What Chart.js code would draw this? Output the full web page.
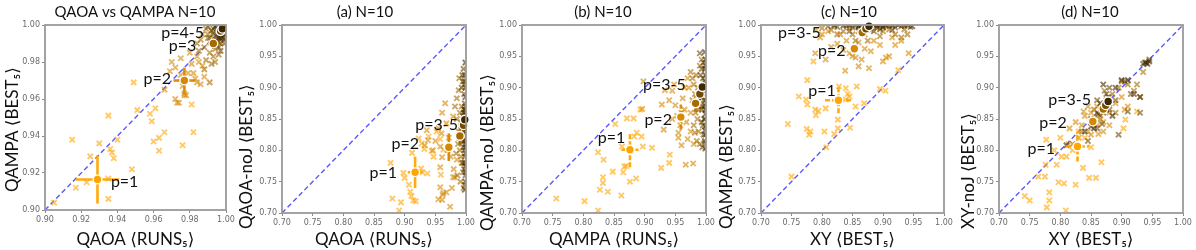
<!DOCTYPE html>
<html><head><meta charset="utf-8">
<script src="https://cdn.jsdelivr.net/npm/chart.js@4/dist/chart.umd.min.js"></script>
<style>
html,body{margin:0;padding:0;background:#fff;}
#wrap{position:relative;width:1196px;height:250px;background:#fff;}
#wrap canvas{position:absolute;left:0;top:0;}
</style></head>
<body><div id="wrap">
<canvas id="c0" width="1196" height="250"></canvas>
<canvas id="c1" width="1196" height="250"></canvas>
<canvas id="c2" width="1196" height="250"></canvas>
<canvas id="c3" width="1196" height="250"></canvas>
<canvas id="c4" width="1196" height="250"></canvas>
</div>
<script>
// ---------- tick labels ----------
const ticksQQ = [0.90,0.92,0.94,0.96,0.98,1.00];
const ticksN  = [0.70,0.75,0.80,0.85,0.90,0.95,1.00];

// ---------- texts ----------
const titles  = ['QAOA vs QAMPA N=10','(a) N=10','(b) N=10','(c) N=10','(d) N=10'];
const xTitles = ['QAOA \u27E8RUNS\u2085\u27E9','QAOA \u27E8RUNS\u2085\u27E9','QAMPA \u27E8RUNS\u2085\u27E9','XY \u27E8BEST\u2085\u27E9','XY \u27E8BEST\u2085\u27E9'];
const yTitles = ['QAMPA \u27E8BEST\u2085\u27E9','QAOA-noJ \u27E8BEST\u2085\u27E9','QAMPA-noJ \u27E8BEST\u2085\u27E9','QAMPA \u27E8BEST\u2085\u27E9','XY-noJ \u27E8BEST\u2085\u27E9'];

// ---------- panel 0: QAOA vs QAMPA ----------
const qq_p1 = [[.905,.904],[.915,.938],[.917,.912],[.923,.915],[.925,.929],[.930,.936],[.935,.951],[.935,.906],[.935,.917],[.936,.933],[.937,.931],[.938,.928],[.940,.938],[.948,.922],[.949,.969],[.951,.954],[.958,.952],[.959,.948],[.960,.937],[.961,.955],[.963,.939],[.963,.932],[.966,.942],[.976,.935],[.982,.942],[.981,.957]];
const qq_p2 = [[.966,.965],[.969,.975],[.970,.980],[.972,.960],[.973,.958],[.974,.958],[.975,.973],[.976,.967],[.977,.963],[.977,.962],[.978,.962],[.982,.974],[.984,.969],[.984,.983],[.986,.968],[.987,.978],[.983,.971],[.980,.985],[.975,.982],[.972,.977],[.979,.974],[.985,.980],[.988,.972],[.981,.979]];
const qq_p3 = [[.985,.986],[.988,.988],[.990,.993],[.991,.985],[.992,.990],[.993,.996],[.994,.987],[.995,.992],[.996,.984],[.989,.981],[.992,.979],[.990,.995],[.986,.992],[.997,.990],[.993,.983],[.991,.969],[.988,.976],[.987,.995],[.984,.990],[.989,.998],[.994,.980]];
const qq_p4 = [[.993,.998],[.995,.994],[.996,.997],[.997,.999],[.998,.995],[.999,.998],[.994,.992],[.996,.991],[.998,.993],[.999,.996],[.992,.997],[.997,.986],[.995,.989],[.991,.993],[.990,.999],[.996,.988],[.999,.990],[.993,.995]];
const qq_p5 = [[.996,.999],[.997,.997],[.998,.999],[.999,.999],[.998,.997],[.999,.995],[.997,.995],[.999,.992],[.996,.996],[.995,.998],[.994,.999],[.999,.997],[.998,.994],[.997,.993],[.996,.993]];
const qq_means = [[.929,.9165,.012,.013],[.977,.970,.006,.007],[.993,.990,.003,.003],[.997,.9967,.002,.002],[.998,.998,.001,.001]];
const qq_labels = [['p=1',.944,.915],['p=2',.962,.971],['p=3',.976,.989],['p=4-5',.976,.9955]];

// ---------- panel 1: (a) ----------
const a_p1 = [[.877,.780],[.880,.723],[.891,.704],[.894,.717],[.898,.764],[.900,.756],[.907,.745],[.909,.734],[.911,.727],[.914,.720],[.918,.719],[.912,.796],[.923,.819],[.927,.771],[.929,.765],[.937,.763],[.939,.822],[.928,.811],[.932,.802],[.944,.799],[.947,.790],[.952,.830],[.958,.818],[.963,.801],[.959,.761]];
const a_p2 = [[.936,.832],[.938,.816],[.933,.808],[.946,.800],[.958,.773],[.961,.789],[.979,.757],[.982,.757],[.958,.741],[.963,.732],[.961,.721],[.974,.710],[.955,.722],[.962,.729],[.968,.733],[.977,.740],[.961,.860],[.966,.875],[.958,.806],[.960,.827],[.968,.843],[.979,.854],[.950,.815],[.955,.835],[.972,.820],[.985,.785],[.975,.790],[.970,.800],[.980,.770]];
const a_p3 = [[.985,.883],[.988,.896],[.982,.870],[.990,.860],[.992,.845],[.988,.830],[.994,.815],[.990,.800],[.993,.780],[.995,.765],[.991,.750],[.996,.740],[.989,.820],[.993,.870],[.997,.905],[.985,.850],[.987,.810],[.984,.795],[.986,.760],[.989,.915],[.992,.790]];
const a_p4 = [[.996,.930],[.995,.910],[.997,.890],[.998,.875],[.996,.860],[.998,.845],[.997,.830],[.999,.820],[.996,.805],[.998,.790],[.997,.770],[.999,.760],[.998,.745],[.993,.900],[.994,.840],[.995,.855],[.996,.815],[.997,.800],[.995,.780],[.994,.920],[.997,.865]];
const a_p5 = [[.999,.940],[.998,.920],[.999,.900],[.999,.885],[.998,.865],[.999,.850],[.999,.835],[.998,.825],[.999,.810],[.999,.795],[.998,.780],[.999,.765],[.999,.750],[.998,.737],[.999,.870],[.999,.855],[.998,.842],[.999,.830],[.998,.815],[.999,.805],[.998,.860],[.999,.775],[.998,.910]];
const a_means = [[.917,.765,.012,.025],[.972,.805,.004,.022],[.990,.823,.003,.015],[.996,.840,.002,.012],[.998,.849,.002,.010]];
const a_labels = [['p=1',.865,.764],['p=2',.901,.811],['p=3-5',.952,.841]];

// ---------- panel 2: (b) ----------
const b_p1 = [[.756,.723],[.802,.719],[.824,.704],[.824,.797],[.827,.737],[.832,.757],[.832,.748],[.833,.785],[.840,.734],[.848,.766],[.852,.842],[.862,.728],[.863,.806],[.865,.765],[.867,.774],[.871,.851],[.870,.775],[.876,.750],[.886,.755],[.882,.851],[.883,.822],[.887,.828],[.893,.865],[.895,.822],[.897,.806],[.912,.804],[.927,.772],[.940,.780],[.941,.793]];
const b_p2 = [[.896,.866],[.898,.910],[.928,.873],[.931,.833],[.933,.896],[.945,.895],[.948,.905],[.950,.872],[.953,.855],[.955,.828],[.958,.840],[.960,.808],[.962,.883],[.965,.865],[.967,.777],[.970,.818],[.972,.900],[.975,.860],[.979,.779],[.955,.820],[.960,.860],[.940,.880],[.965,.900],[.968,.845],[.975,.830],[.945,.850],[.970,.915],[.980,.810]];
const b_p3 = [[.975,.925],[.978,.915],[.980,.905],[.982,.890],[.985,.875],[.983,.860],[.986,.850],[.980,.840],[.988,.830],[.985,.815],[.990,.810],[.992,.870],[.987,.900],[.990,.935],[.993,.945],[.978,.880],[.984,.920],[.988,.865],[.982,.828]];
const b_p4 = [[.990,.955],[.993,.930],[.995,.915],[.994,.895],[.996,.880],[.993,.865],[.997,.850],[.995,.840],[.996,.825],[.998,.812],[.994,.805],[.997,.905],[.992,.885],[.991,.920],[.995,.870],[.993,.845],[.996,.940]];
const b_p5 = [[.998,.957],[.999,.945],[.998,.930],[.999,.920],[.999,.905],[.998,.895],[.999,.880],[.999,.865],[.998,.850],[.999,.838],[.999,.825],[.998,.815],[.999,.803],[.999,.890],[.998,.910],[.999,.935],[.998,.872],[.999,.858],[.998,.832]];
const b_means = [[.876,.801,.014,.028],[.959,.853,.004,.020],[.983,.875,.003,.013],[.990,.890,.003,.010],[.994,.901,.002,.008]];
const b_labels = [['p=1',.846,.820],['p=2',.922,.849],['p=3-5',.932,.905]];

// ---------- panel 3: (c) ----------
const c_p1 = [[.750,.758],[.744,.842],[.762,.886],[.774,.881],[.776,.912],[.776,.873],[.775,.834],[.779,.825],[.781,.830],[.790,.856],[.789,.865],[.794,.863],[.806,.867],[.804,.830],[.807,.805],[.820,.826],[.826,.835],[.826,.849],[.828,.902],[.839,.899],[.839,.881],[.842,.890],[.846,.836],[.845,.886],[.855,.870],[.857,.902],[.869,.875],[.895,.898],[.904,.895],[.925,.928],[.786,.942]];
const c_p2 = [[.789,.955],[.806,.945],[.797,.980],[.838,.927],[.860,.934],[.877,.931],[.942,.955],[.900,.942],[.905,.948],[.910,.950],[.895,.968],[.920,.968],[.930,.975],[.815,.965],[.825,.970],[.835,.960],[.845,.955],[.850,.950],[.855,.948],[.865,.945],[.870,.962],[.880,.958],[.840,.975],[.830,.985],[.810,.990],[.800,.985],[.860,.972],[.885,.975],[.790,.992],[.915,.980]];
const c_p3 = [[.800,.995],[.815,.992],[.825,.985],[.835,.990],[.845,.995],[.850,.985],[.860,.990],[.870,.985],[.880,.992],[.890,.995],[.900,.990],[.910,.993],[.920,.985],[.930,.980],[.940,.985],[.855,.975],[.875,.975],[.895,.982],[.820,.998],[.865,.996],[.905,.998],[.935,.993]];
const c_p4 = [[.810,.998],[.825,.997],[.840,.999],[.850,.996],[.860,.998],[.870,.996],[.880,.999],[.890,.997],[.900,.998],[.910,.999],[.920,.996],[.930,.998],[.945,.997],[.865,.992],[.885,.990],[.895,.993],[.875,.995],[.915,.992],[.845,.990]];
const c_p5 = [[.820,1.0],[.835,.999],[.845,1.0],[.855,.999],[.865,1.0],[.875,.999],[.885,1.0],[.895,.999],[.905,1.0],[.915,.999],[.925,1.0],[.935,.999],[.948,.998],[.870,.998],[.880,.996],[.890,1.0],[.860,.997],[.900,.996],[.940,1.0]];
const c_means = [[.827,.880,.022,.021],[.853,.962,.006,.006],[.866,.988,.005,.004],[.872,.994,.004,.003],[.877,.998,.003,.002]];
const c_labels = [['p=1',.800,.895],['p=2',.816,.958],['p=3-5',.763,.988]];

// ---------- panel 4: (d) ----------
const d_p1 = [[.742,.727],[.750,.720],[.764,.758],[.775,.758],[.778,.709],[.782,.733],[.782,.720],[.776,.777],[.797,.749],[.806,.747],[.809,.704],[.794,.777],[.802,.790],[.810,.790],[.813,.810],[.825,.745],[.837,.772],[.847,.756],[.858,.756],[.867,.781],[.903,.835],[.906,.849],[.925,.862],[.777,.817],[.790,.800],[.820,.800],[.840,.820],[.850,.805],[.830,.830],[.800,.820]];
const d_p2 = [[.815,.835],[.825,.845],[.835,.840],[.840,.855],[.845,.830],[.850,.860],[.855,.850],[.860,.840],[.865,.855],[.870,.845],[.880,.860],[.890,.875],[.900,.885],[.905,.865],[.910,.870],[.860,.870],[.845,.870],[.830,.820],[.870,.830],[.880,.840],[.850,.825],[.838,.862],[.862,.826]];
const d_p3 = [[.820,.810],[.835,.830],[.850,.845],[.860,.860],[.870,.870],[.875,.880],[.880,.875],[.885,.890],[.895,.900],[.900,.910],[.910,.905],[.920,.895],[.930,.885],[.925,.905],[.935,.925],[.890,.860],[.865,.850],[.855,.865],[.872,.895]];
const d_p4 = [[.845,.815],[.860,.835],[.870,.860],[.875,.890],[.880,.900],[.890,.880],[.895,.825],[.905,.910],[.915,.890],[.930,.860],[.940,.940],[.945,.945],[.860,.880],[.850,.850],[.880,.865],[.868,.842],[.910,.862],[.935,.938]];
const d_p5 = [[.810,.808],[.840,.830],[.855,.835],[.865,.875],[.870,.905],[.878,.885],[.885,.855],[.900,.912],[.910,.912],[.920,.890],[.930,.885],[.938,.940],[.945,.942],[.942,.938],[.875,.865],[.862,.858],[.890,.900],[.850,.838]];
const d_means = [[.828,.806,.019,.024],[.853,.846,.005,.006],[.870,.866,.004,.004],[.874,.872,.003,.003],[.878,.878,.003,.003]];
const d_labels = [['p=1',.769,.803],['p=2',.788,.844],['p=3-5',.815,.880]];

// ---------- layout / style (not data) ----------
const COLORS = [[255,165,0],[214,136,0],[165,106,0],[112,74,0],[62,40,0]];
const rgba = (c,a)=>`rgba(${c[0]},${c[1]},${c[2]},${a})`;
const TXT_FONT = 'Lato, "DejaVu Sans", sans-serif';

const panels = [
  {series:[qq_p1,qq_p2,qq_p3,qq_p4,qq_p5], means:qq_means, labels:qq_labels, ticks:ticksQQ,
   box:{l:45,r:226,t:25,b:210}, titleX:135, yTitleX:13, yTitleB:192, dash:[]},
  {series:[a_p1,a_p2,a_p3,a_p4,a_p5], means:a_means, labels:a_labels, ticks:ticksN,
   box:{l:282,r:466,t:25,b:213}, titleX:365, yTitleX:247, yTitleB:229, dash:[]},
  {series:[b_p1,b_p2,b_p3,b_p4,b_p5], means:b_means, labels:b_labels, ticks:ticksN,
   box:{l:522,r:706,t:25,b:213}, titleX:603, yTitleX:488, yTitleB:231, dash:[5,2]},
  {series:[c_p1,c_p2,c_p3,c_p4,c_p5], means:c_means, labels:c_labels, ticks:ticksN,
   box:{l:761,r:944,t:25,b:213}, titleX:849, yTitleX:727, yTitleB:229, dash:[5,2]},
  {series:[d_p1,d_p2,d_p3,d_p4,d_p5], means:d_means, labels:d_labels, ticks:ticksN,
   box:{l:999,r:1183,t:25,b:213}, titleX:1090, yTitleX:969, yTitleB:229, dash:[5,2]}
];

const YW = 42;
panels.forEach((P,k)=>{
  const lo = P.ticks[0], hi = P.ticks[P.ticks.length-1];
  const datasets = [];
  // means (top)
  datasets.push({type:'scatter', data:P.means.map(m=>({x:m[0],y:m[1]})),
    pointStyle:'circle', pointRadius:4.4, pointBorderWidth:1.4,
    pointBackgroundColor:P.means.map((m,i)=>rgba(COLORS[i],1)), pointBorderColor:'#ffffff', clip:false});
  // error bars
  P.means.forEach((m,i)=>{
    const common = {type:'scatter', showLine:true, pointRadius:0, borderWidth:2.6, borderColor:rgba(COLORS[i],0.95), borderDash:P.dash, fill:false};
    datasets.push(Object.assign({data:[{x:m[0]-m[2],y:m[1]},{x:m[0]+m[2],y:m[1]}]}, common));
    datasets.push(Object.assign({data:[{x:m[0],y:m[1]-m[3]},{x:m[0],y:m[1]+m[3]}]}, common));
  });
  // scatter series, darkest on top
  for (let i=4;i>=0;i--){
    datasets.push({type:'scatter', data:P.series[i].map(p=>({x:p[0],y:p[1]})),
      pointStyle:'crossRot', pointRadius:3.7, pointBorderWidth:1.9,
      pointBorderColor:rgba(COLORS[i],0.6), pointBackgroundColor:rgba(COLORS[i],0.3)});
  }
  // diagonal
  datasets.push({type:'scatter', showLine:true, data:[{x:lo,y:lo},{x:hi,y:hi}], pointRadius:0,
    borderColor:'rgba(70,70,255,0.9)', borderWidth:1.4, borderDash:[5,3]});

  const textPlugin = {
    id:'panelText'+k,
    afterDatasetsDraw(chart){
      const {ctx, chartArea:ca} = chart;
      ctx.save();
      ctx.strokeStyle = '#9a9a9a'; ctx.lineWidth = 1.8;
      ctx.strokeRect(ca.left, ca.top, ca.right-ca.left, ca.bottom-ca.top);
      ctx.restore();
    },
    afterDraw(chart){
      const {ctx, scales:{x,y}} = chart;
      ctx.save();
      ctx.fillStyle = '#111';
      ctx.textAlign='center'; ctx.textBaseline='middle';
      ctx.font = '15px '+TXT_FONT;
      ctx.fillText(titles[k], P.titleX, 12);
      ctx.save();
      ctx.translate(P.yTitleX, P.yTitleB); ctx.rotate(-Math.PI/2);
      ctx.textAlign='left'; ctx.font = '17px '+TXT_FONT;
      ctx.fillText(yTitles[k], 0, 0);
      ctx.restore();
      ctx.font = '16px '+TXT_FONT;
      P.labels.forEach(l=>ctx.fillText(l[0], x.getPixelForValue(l[1]), y.getPixelForValue(l[2])));
      ctx.restore();
    }
  };

  const axisCommon = ()=>({
    type:'linear', min:lo, max:hi,
    afterBuildTicks:(s)=>{ s.ticks = P.ticks.map(v=>({value:v})); },
    grid:{display:true, drawOnChartArea:false, drawTicks:true, tickLength:3, color:'#8a8a8a', lineWidth:1},
    border:{display:false},
    ticks:{font:{family:'"DejaVu Sans", sans-serif', size:8}, color:'#6a6a6a', padding:2, autoSkip:false, maxRotation:0,
      callback:(v)=>Number(v).toFixed(2)}
  });
  const xs = axisCommon();
  xs.afterFit = (s)=>{ s.height = 250 - P.box.b; };
  xs.title = {display:true, text:xTitles[k], color:'#111', font:{family:TXT_FONT, size:17, lineHeight:1}, padding:{top:0,bottom:2}};
  const ys = axisCommon();
  ys.afterFit = (s)=>{ s.width = YW; };

  new Chart(document.getElementById('c'+k), {
    type:'scatter',
    data:{datasets},
    options:{
      responsive:false, animation:false, devicePixelRatio:1,
      layout:{padding:{left:P.box.l-YW, right:1196-P.box.r, top:P.box.t, bottom:0}},
      scales:{x:xs, y:ys},
      plugins:{legend:{display:false}, tooltip:{enabled:false}, title:{display:false}}
    },
    plugins:[textPlugin]
  });
});
</script>
</body></html>
